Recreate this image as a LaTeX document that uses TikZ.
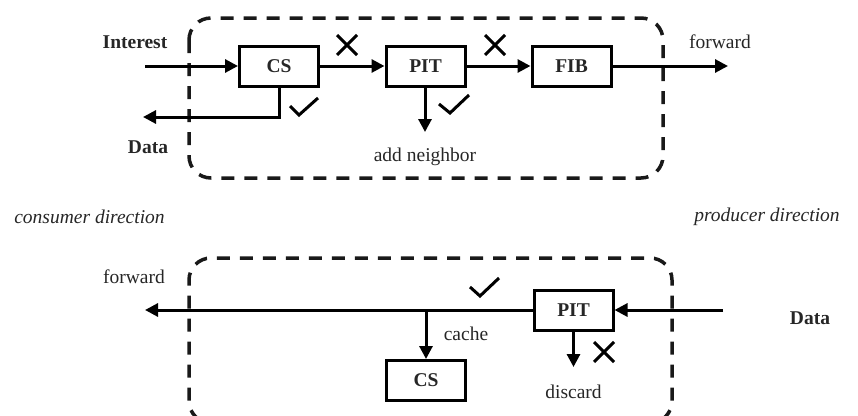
\documentclass[tikz,border=0pt]{standalone}
\usepackage{fontspec}
\setmainfont{Liberation Serif}
\usetikzlibrary{arrows.meta}
\begin{document}
\begin{tikzpicture}[x=1pt,y=-1pt,
  every node/.style={font=\fontsize{19.5}{22}\selectfont, text=black!85},
  blockbox/.style={draw, line width=3pt, minimum width=79pt, minimum height=40pt, inner sep=0pt, font=\fontsize{19.5}{22}\selectfont\bfseries},
  conn/.style={line width=3pt, -{Triangle[length=13pt,width=13pt]}},
  region/.style={draw, line width=3.5pt, dash pattern=on 13pt off 10pt, rounded corners=22pt},
  markline/.style={line width=3pt, line cap=butt},
  lbl/.style={inner sep=0pt},
  boldlbl/.style={inner sep=0pt, font=\fontsize{19.5}{22}\selectfont\bfseries},
  itlbl/.style={inner sep=0pt, font=\fontsize{19.5}{22}\selectfont\itshape}]
\useasboundingbox (0,0) rectangle (858,415);
\clip (0,0) rectangle (858,415);
% ---------- top ----------
\draw[region, black!90] (189,18) rectangle (663,178);
\node[blockbox] (cs1) at (279,66) {CS};
\node[blockbox] (pit1) at (425.5,66) {PIT};
\node[blockbox] (fib1) at (571.5,66) {FIB};
\coordinate (in1) at (145,66);
\coordinate (out1) at (728,66);
\coordinate (dataout) at (143,117);
\coordinate (pitdown) at (425,132);
\draw[conn] (in1) -- (cs1.west);
\draw[conn] (cs1.east) -- (pit1.west);
\draw[conn] (pit1.east) -- (fib1.west);
\draw[conn] (fib1.east) -- (out1);
\draw[conn] (cs1.south) |- (dataout);
\draw[conn] (pit1.south -| pitdown) -- (pitdown);
\node[boldlbl] (interest) at (135,42) {Interest};
\node[boldlbl] (data1) at (148,147) {Data};
\node[lbl] (fwd1) at (720,42) {forward};
\node[lbl] (addn) at (425,157) {add neighbor};
% X marks
\draw[markline] (337,35) -- (357,55) (357,35) -- (337,55);
\draw[markline] (485,35) -- (505,55) (505,35) -- (485,55);
% checks
\draw[markline] (290,106) -- (299,115) -- (318,98);
\draw[markline] (439,104) -- (450,113) -- (469,95);
% direction labels
\node[itlbl] (cons) at (89.5,217) {consumer direction};
\node[itlbl] (prod) at (767,217) {producer direction};
% ---------- bottom ----------
\draw[region, black!90] (291,423) -- (189,423) -- (189,258) -- (430,258);
\draw[region, black!90] (570,423) -- (672,423) -- (672,258) -- (430,258);
\node[blockbox] (pit2) at (573.5,310) {PIT};
\node[blockbox] (cs2) at (426,380.5) {CS};
\coordinate (in2) at (723,310);
\coordinate (out2) at (145,310);
\coordinate (branch) at (426,310);
\coordinate (disc) at (573.5,367);
\draw[conn] (in2) -- (pit2.east);
\draw[conn] (pit2.west) -- (out2);
\draw[conn] (branch) -- (cs2.north);
\draw[conn] (pit2.south) -- (disc);
\node[boldlbl] (data2) at (810,318) {Data};
\node[lbl] (fwd2) at (134,277) {forward};
\node[lbl] (cache) at (466,334) {cache};
\node[lbl] (discard) at (573.5,392) {discard};
\draw[markline] (470,287) -- (480,296) -- (499,278);
\draw[markline] (594,342) -- (614,362) (614,342) -- (594,362);
\end{tikzpicture}
\end{document}
